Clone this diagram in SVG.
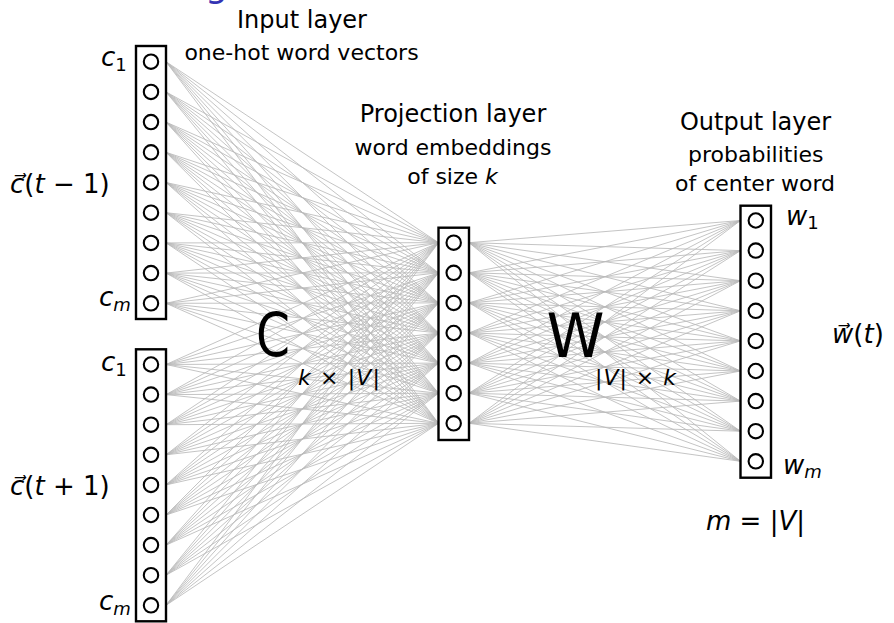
<svg xmlns="http://www.w3.org/2000/svg" width="894" height="623" viewBox="0 0 894 623">
<style>
text{font-family:"DejaVu Sans","Liberation Sans",sans-serif;fill:#000}
.t{font-size:24px;text-anchor:middle}
.s{font-size:22px;text-anchor:middle}
.m{font-size:26px}
.i{font-style:italic}
.sub{font-size:18px}
.big{font-size:60px}
.box{fill:#fff;stroke:#000;stroke-width:2.4}
.n{fill:#fff;stroke:#000;stroke-width:2.1}
.e{fill:none;stroke:#b9b9b9;stroke-width:0.85}
</style>
<rect width="894" height="623" fill="#fff"/>
<text x="205" y="-3.5" style="font-size:36px;fill:#3333b3">g</text>

<g id="connectors">
<path class="e" d="M166 61.7L438.5 242.7M166 91.9L438.5 242.7M166 122.1L438.5 242.7M166 152.3L438.5 242.7M166 182.5L438.5 242.7M166 212.7L438.5 242.7M166 242.9L438.5 242.7M166 273.1L438.5 242.7M166 303.3L438.5 242.7M166 364.5L438.5 242.7M166 394.6L438.5 242.7M166 424.7L438.5 242.7M166 454.8L438.5 242.7M166 484.9L438.5 242.7M166 515L438.5 242.7M166 545.1L438.5 242.7M166 575.2L438.5 242.7M166 605.3L438.5 242.7"/>
<path class="e" d="M166 61.7L438.5 272.8M166 91.9L438.5 272.8M166 122.1L438.5 272.8M166 152.3L438.5 272.8M166 182.5L438.5 272.8M166 212.7L438.5 272.8M166 242.9L438.5 272.8M166 273.1L438.5 272.8M166 303.3L438.5 272.8M166 364.5L438.5 272.8M166 394.6L438.5 272.8M166 424.7L438.5 272.8M166 454.8L438.5 272.8M166 484.9L438.5 272.8M166 515L438.5 272.8M166 545.1L438.5 272.8M166 575.2L438.5 272.8M166 605.3L438.5 272.8"/>
<path class="e" d="M166 61.7L438.5 302.9M166 91.9L438.5 302.9M166 122.1L438.5 302.9M166 152.3L438.5 302.9M166 182.5L438.5 302.9M166 212.7L438.5 302.9M166 242.9L438.5 302.9M166 273.1L438.5 302.9M166 303.3L438.5 302.9M166 364.5L438.5 302.9M166 394.6L438.5 302.9M166 424.7L438.5 302.9M166 454.8L438.5 302.9M166 484.9L438.5 302.9M166 515L438.5 302.9M166 545.1L438.5 302.9M166 575.2L438.5 302.9M166 605.3L438.5 302.9"/>
<path class="e" d="M166 61.7L438.5 333M166 91.9L438.5 333M166 122.1L438.5 333M166 152.3L438.5 333M166 182.5L438.5 333M166 212.7L438.5 333M166 242.9L438.5 333M166 273.1L438.5 333M166 303.3L438.5 333M166 364.5L438.5 333M166 394.6L438.5 333M166 424.7L438.5 333M166 454.8L438.5 333M166 484.9L438.5 333M166 515L438.5 333M166 545.1L438.5 333M166 575.2L438.5 333M166 605.3L438.5 333"/>
<path class="e" d="M166 61.7L438.5 363.1M166 91.9L438.5 363.1M166 122.1L438.5 363.1M166 152.3L438.5 363.1M166 182.5L438.5 363.1M166 212.7L438.5 363.1M166 242.9L438.5 363.1M166 273.1L438.5 363.1M166 303.3L438.5 363.1M166 364.5L438.5 363.1M166 394.6L438.5 363.1M166 424.7L438.5 363.1M166 454.8L438.5 363.1M166 484.9L438.5 363.1M166 515L438.5 363.1M166 545.1L438.5 363.1M166 575.2L438.5 363.1M166 605.3L438.5 363.1"/>
<path class="e" d="M166 61.7L438.5 393.2M166 91.9L438.5 393.2M166 122.1L438.5 393.2M166 152.3L438.5 393.2M166 182.5L438.5 393.2M166 212.7L438.5 393.2M166 242.9L438.5 393.2M166 273.1L438.5 393.2M166 303.3L438.5 393.2M166 364.5L438.5 393.2M166 394.6L438.5 393.2M166 424.7L438.5 393.2M166 454.8L438.5 393.2M166 484.9L438.5 393.2M166 515L438.5 393.2M166 545.1L438.5 393.2M166 575.2L438.5 393.2M166 605.3L438.5 393.2"/>
<path class="e" d="M166 61.7L438.5 423.3M166 91.9L438.5 423.3M166 122.1L438.5 423.3M166 152.3L438.5 423.3M166 182.5L438.5 423.3M166 212.7L438.5 423.3M166 242.9L438.5 423.3M166 273.1L438.5 423.3M166 303.3L438.5 423.3M166 364.5L438.5 423.3M166 394.6L438.5 423.3M166 424.7L438.5 423.3M166 454.8L438.5 423.3M166 484.9L438.5 423.3M166 515L438.5 423.3M166 545.1L438.5 423.3M166 575.2L438.5 423.3M166 605.3L438.5 423.3"/>
<path class="e" d="M469 242.7L740.5 220.5M469 242.7L740.5 250.6M469 242.7L740.5 280.7M469 242.7L740.5 310.8M469 242.7L740.5 340.9M469 242.7L740.5 371M469 242.7L740.5 401.1M469 242.7L740.5 431.2M469 242.7L740.5 461.3"/>
<path class="e" d="M469 272.8L740.5 220.5M469 272.8L740.5 250.6M469 272.8L740.5 280.7M469 272.8L740.5 310.8M469 272.8L740.5 340.9M469 272.8L740.5 371M469 272.8L740.5 401.1M469 272.8L740.5 431.2M469 272.8L740.5 461.3"/>
<path class="e" d="M469 302.9L740.5 220.5M469 302.9L740.5 250.6M469 302.9L740.5 280.7M469 302.9L740.5 310.8M469 302.9L740.5 340.9M469 302.9L740.5 371M469 302.9L740.5 401.1M469 302.9L740.5 431.2M469 302.9L740.5 461.3"/>
<path class="e" d="M469 333L740.5 220.5M469 333L740.5 250.6M469 333L740.5 280.7M469 333L740.5 310.8M469 333L740.5 340.9M469 333L740.5 371M469 333L740.5 401.1M469 333L740.5 431.2M469 333L740.5 461.3"/>
<path class="e" d="M469 363.1L740.5 220.5M469 363.1L740.5 250.6M469 363.1L740.5 280.7M469 363.1L740.5 310.8M469 363.1L740.5 340.9M469 363.1L740.5 371M469 363.1L740.5 401.1M469 363.1L740.5 431.2M469 363.1L740.5 461.3"/>
<path class="e" d="M469 393.2L740.5 220.5M469 393.2L740.5 250.6M469 393.2L740.5 280.7M469 393.2L740.5 310.8M469 393.2L740.5 340.9M469 393.2L740.5 371M469 393.2L740.5 401.1M469 393.2L740.5 431.2M469 393.2L740.5 461.3"/>
<path class="e" d="M469 423.3L740.5 220.5M469 423.3L740.5 250.6M469 423.3L740.5 280.7M469 423.3L740.5 310.8M469 423.3L740.5 340.9M469 423.3L740.5 371M469 423.3L740.5 401.1M469 423.3L740.5 431.2M469 423.3L740.5 461.3"/>
</g>

<g id="input-prev">
<rect class="box" x="136" y="46" width="30" height="273"/>
<circle class="n" cx="151" cy="61.7" r="7.2"/><circle class="n" cx="151" cy="91.9" r="7.2"/><circle class="n" cx="151" cy="122.1" r="7.2"/><circle class="n" cx="151" cy="152.3" r="7.2"/><circle class="n" cx="151" cy="182.5" r="7.2"/><circle class="n" cx="151" cy="212.7" r="7.2"/><circle class="n" cx="151" cy="242.9" r="7.2"/><circle class="n" cx="151" cy="273.1" r="7.2"/><circle class="n" cx="151" cy="303.3" r="7.2"/>
<text class="m i" x="101" y="66">c<tspan class="sub" dy="5" style="font-style:normal">1</tspan></text>
<text class="m i" x="99" y="306">c<tspan class="sub" dy="5">m</tspan></text>
<text class="m" x="10" y="193"><tspan class="i">c&#x20D7;</tspan>(<tspan class="i">t</tspan> − 1)</text>
</g>

<g id="input-next">
<rect class="box" x="136" y="349.3" width="30" height="272"/>
<circle class="n" cx="151" cy="364.5" r="7.2"/><circle class="n" cx="151" cy="394.6" r="7.2"/><circle class="n" cx="151" cy="424.7" r="7.2"/><circle class="n" cx="151" cy="454.8" r="7.2"/><circle class="n" cx="151" cy="484.9" r="7.2"/><circle class="n" cx="151" cy="515" r="7.2"/><circle class="n" cx="151" cy="545.1" r="7.2"/><circle class="n" cx="151" cy="575.2" r="7.2"/><circle class="n" cx="151" cy="605.3" r="7.2"/>
<text class="m i" x="101" y="371">c<tspan class="sub" dy="5" style="font-style:normal">1</tspan></text>
<text class="m i" x="99" y="610">c<tspan class="sub" dy="5">m</tspan></text>
<text class="m" x="10" y="495"><tspan class="i">c&#x20D7;</tspan>(<tspan class="i">t</tspan> + 1)</text>
</g>

<g id="input-label">
<text class="t" x="302" y="28">Input layer</text>
<text class="s" x="301.5" y="60">one-hot word vectors</text>
</g>

<g id="matrix-C">
<text class="big" x="256" y="356" textLength="34" lengthAdjust="spacingAndGlyphs">C</text>
<text style="font-size:22px" x="298" y="385" textLength="82"><tspan class="i">k</tspan> × |<tspan class="i">V</tspan>|</text>
</g>

<g id="projection">
<rect class="box" x="438.5" y="227.7" width="30.5" height="212.3"/>
<circle class="n" cx="453.7" cy="242.7" r="7.2"/><circle class="n" cx="453.7" cy="272.8" r="7.2"/><circle class="n" cx="453.7" cy="302.9" r="7.2"/><circle class="n" cx="453.7" cy="333" r="7.2"/><circle class="n" cx="453.7" cy="363.1" r="7.2"/><circle class="n" cx="453.7" cy="393.2" r="7.2"/><circle class="n" cx="453.7" cy="423.3" r="7.2"/>
<text class="t" x="453" y="122">Projection layer</text>
<text class="s" x="453" y="155">word embeddings</text>
<text class="s" x="452.5" y="184">of size <tspan class="i">k</tspan></text>
</g>

<g id="matrix-W">
<text class="big" x="546.5" y="357" textLength="58" lengthAdjust="spacingAndGlyphs">W</text>
<text style="font-size:22px" x="595" y="385" textLength="81">|<tspan class="i">V</tspan>| × <tspan class="i">k</tspan></text>
</g>

<g id="output">
<rect class="box" x="740.5" y="205.7" width="30.5" height="272"/>
<circle class="n" cx="755.8" cy="220.5" r="7.2"/><circle class="n" cx="755.8" cy="250.6" r="7.2"/><circle class="n" cx="755.8" cy="280.7" r="7.2"/><circle class="n" cx="755.8" cy="310.8" r="7.2"/><circle class="n" cx="755.8" cy="340.9" r="7.2"/><circle class="n" cx="755.8" cy="371" r="7.2"/><circle class="n" cx="755.8" cy="401.1" r="7.2"/><circle class="n" cx="755.8" cy="431.2" r="7.2"/><circle class="n" cx="755.8" cy="461.3" r="7.2"/>
<text class="t" x="755.5" y="130">Output layer</text>
<text class="s" x="755.8" y="161.7">probabilities</text>
<text class="s" x="755" y="190.7">of center word</text>
<text class="m i" x="786" y="225">w<tspan class="sub" dy="4" style="font-style:normal">1</tspan></text>
<text class="m i" x="783" y="474">w<tspan class="sub" dy="4">m</tspan></text>
<text class="m" x="832" y="343"><tspan class="i">w&#x20D7;</tspan>(<tspan class="i">t</tspan>)</text>
<text class="m" x="706" y="530"><tspan class="i">m</tspan> = |<tspan class="i">V</tspan>|</text>
</g>
</svg>
